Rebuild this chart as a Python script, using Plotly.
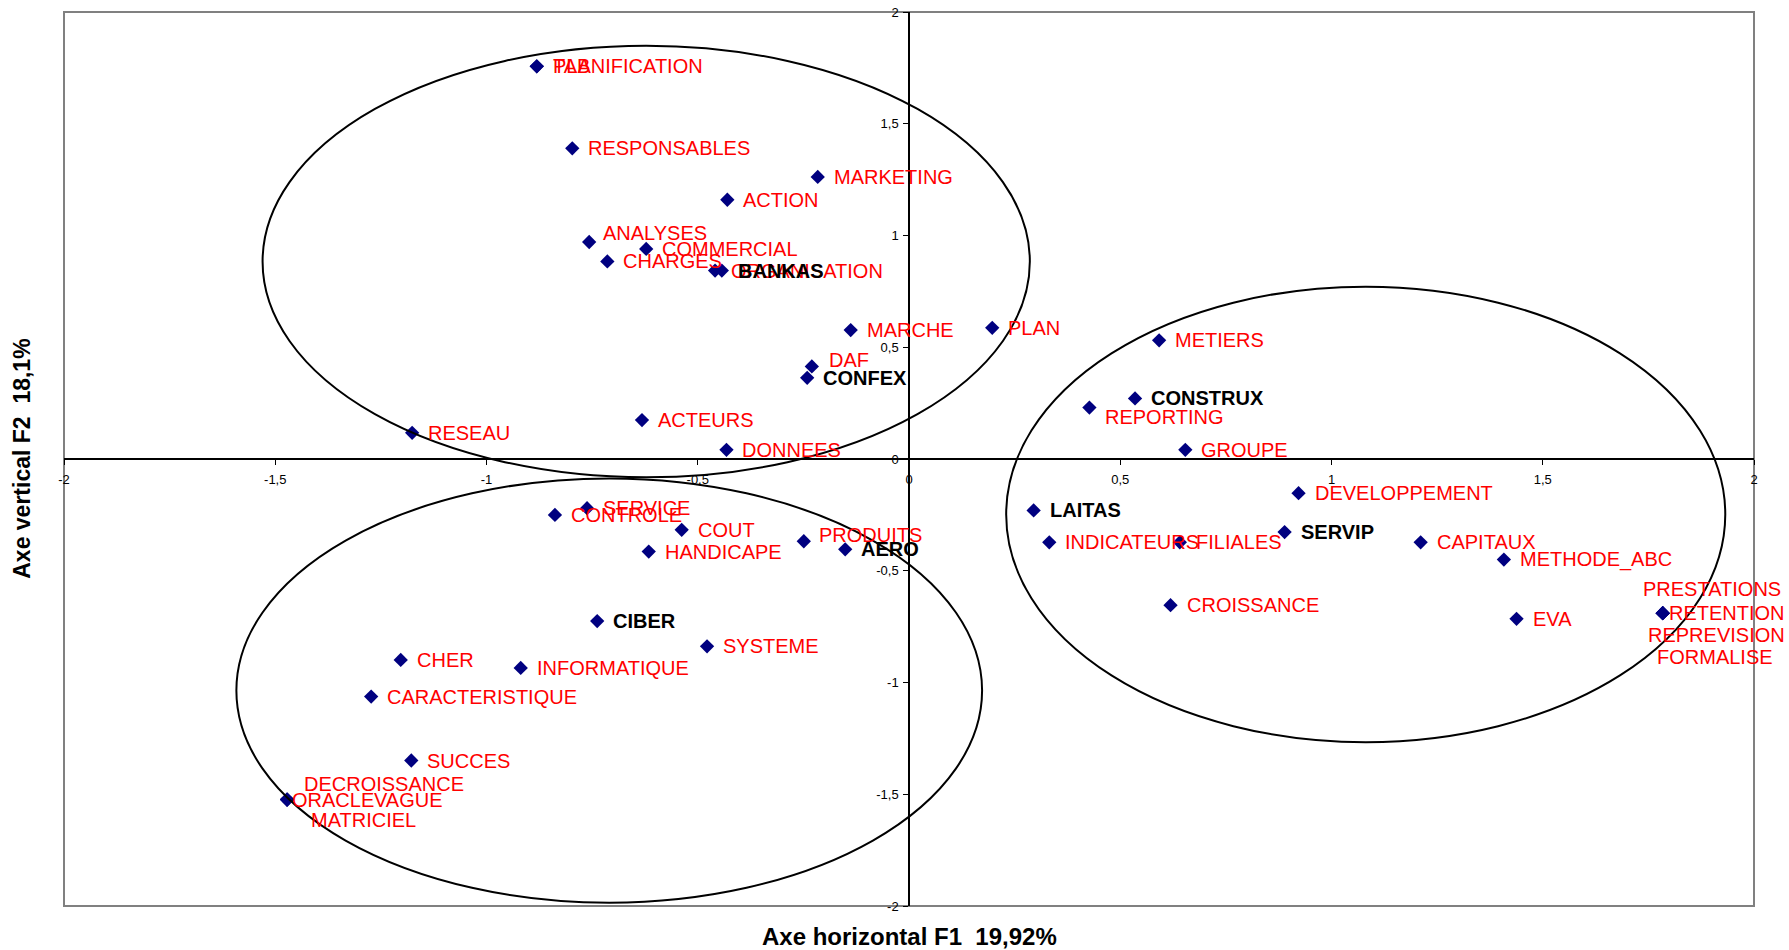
import plotly.graph_objects as go

# ---- data (coordinates on factorial plane F1 x F2) ----
var_names = ["TAB", "PLANIFICATION", "RESPONSABLES", "MARKETING", "ACTION", "ANALYSES",
             "COMMERCIAL", "CHARGES", "ORGANISATION", "MARCHE", "PLAN", "DAF", "ACTEURS",
             "DONNEES", "RESEAU", "METIERS", "REPORTING", "GROUPE", "DEVELOPPEMENT",
             "INDICATEURS", "FILIALES", "CAPITAUX", "METHODE_ABC", "CROISSANCE", "EVA",
             "PRESTATIONS", "RETENTION", "REPREVISION", "FORMALISE",
             "SERVICE", "CONTROLE", "COUT", "PRODUITS", "HANDICAPE", "SYSTEME", "CHER",
             "INFORMATIQUE", "CARACTERISTIQUE", "SUCCES",
             "DECROISSANCE", "ORACLE", "VAGUE", "MATRICIEL"]
var_f1 = [-0.881, -0.881, -0.797, -0.216, -0.430, -0.757,
          -0.622, -0.714, -0.459, -0.138, 0.197, -0.230, -0.632,
          -0.432, -1.176, 0.592, 0.427, 0.654, 0.922,
          0.332, 0.641, 1.211, 1.408, 0.619, 1.438,
          1.784, 1.784, 1.784, 1.784,
          -0.762, -0.838, -0.538, -0.249, -0.616, -0.478, -1.203,
          -0.919, -1.273, -1.178,
          -1.472, -1.472, -1.472, -1.472]
var_f2 = [1.757, 1.757, 1.390, 1.262, 1.160, 0.971,
          0.940, 0.884, 0.843, 0.577, 0.587, 0.414, 0.174,
          0.041, 0.117, 0.531, 0.230, 0.041, -0.153,
          -0.373, -0.373, -0.373, -0.450, -0.654, -0.715,
          -0.690, -0.690, -0.690, -0.690,
          -0.220, -0.250, -0.317, -0.368, -0.414, -0.838, -0.899,
          -0.935, -1.063, -1.349,
          -1.524, -1.524, -1.524, -1.524]

comp_names = ["BANKAS", "CONFEX", "CONSTRUX", "LAITAS", "SERVIP", "AERO", "CIBER"]
comp_f1 = [-0.443, -0.241, 0.535, 0.295, 0.889, -0.151, -0.738]
comp_f2 = [0.843, 0.363, 0.271, -0.230, -0.327, -0.404, -0.725]

# ellipses grouping the clusters: [x0, x1, y0, y1]
groups = [
    [-1.530, 0.286, -0.082, 1.849],
    [-1.592, 0.173, -1.985, -0.087],
    [0.230, 1.932, -1.267, 0.771],
]

tick_vals = [-2, -1.5, -1, -0.5, 0, 0.5, 1, 1.5, 2]
tick_text = ["-2", "-1,5", "-1", "-0,5", "0", "0,5", "1", "1,5", "2"]

x_title = "Axe horizontal F1  19,92%"
y_title = "Axe vertical F2  18,1%"

# ---- label placement (pixel offsets, style only) ----
label_offsets = {
    "ANALYSES": (12, 9), "DAF": (15, 6), "REPORTING": (14, -9), "PRODUITS": (13, 6),
    "PRESTATIONS": (-22, 24), "RETENTION": (4, 0), "REPREVISION": (-17, -22),
    "FORMALISE": (-8, -44),
    "DECROISSANCE": (15, 16), "ORACLE": (3, 0), "VAGUE": (85, 0), "MATRICIEL": (22, -20),
}
DEFAULT_OFF = (14, 0)
FONT = "Liberation Sans, Arial, sans-serif"

fig = go.Figure()
fig.add_trace(go.Scatter(
    x=var_f1 + comp_f1, y=var_f2 + comp_f2,
    mode="markers", text=var_names + comp_names, hoverinfo="text",
    marker=dict(symbol="diamond", size=11, color="#000080"),
    showlegend=False,
))

annotations = []
for n, x, y in zip(var_names, var_f1, var_f2):
    dx, dy = label_offsets.get(n, DEFAULT_OFF)
    annotations.append(dict(x=x, y=y, xref="x", yref="y", text=n, showarrow=False,
                            xanchor="left", yanchor="middle", xshift=dx, yshift=dy,
                            font=dict(family=FONT, size=20, color="#FF0000")))
for n, x, y in zip(comp_names, comp_f1, comp_f2):
    dx, dy = label_offsets.get(n, DEFAULT_OFF)
    annotations.append(dict(x=x, y=y, xref="x", yref="y", text="<b>%s</b>" % n,
                            showarrow=False, xanchor="left", yanchor="middle",
                            xshift=dx, yshift=dy,
                            font=dict(family=FONT, size=20, color="#000000")))

annotations.append(dict(x=0.5, y=-0.034, xref="paper", yref="paper", text="<b>%s</b>" % x_title,
                        showarrow=False, xanchor="center", yanchor="middle",
                        font=dict(family=FONT, size=24, color="#000000")))
annotations.append(dict(x=-0.025, y=0.5, xref="paper", yref="paper", text="<b>%s</b>" % y_title,
                        showarrow=False, xanchor="center", yanchor="middle", textangle=-90,
                        font=dict(family=FONT, size=23, color="#000000")))

shapes = []
for x0, x1, y0, y1 in groups:
    shapes.append(dict(type="circle", xref="x", yref="y", x0=x0, x1=x1, y0=y0, y1=y1,
                       line=dict(color="#000000", width=2)))
shapes.append(dict(type="rect", xref="paper", yref="paper", x0=0, x1=1, y0=0, y1=1,
                   line=dict(color="#808080", width=2), layer="below"))

axis_common = dict(range=[-2, 2], showgrid=False, zeroline=False, showline=True,
                   linecolor="#000000", linewidth=1.5, ticks="outside", ticklen=5,
                   tickcolor="#000000", tickvals=tick_vals, ticktext=tick_text,
                   tickfont=dict(family=FONT, size=13, color="#000000"),
                   anchor="free", position=0.5, fixedrange=True, automargin=False)

fig.update_layout(
    width=1789, height=950,
    margin=dict(l=64, r=35, t=12, b=44, autoexpand=False),
    paper_bgcolor="white", plot_bgcolor="white",
    xaxis=dict(**axis_common, ticklabelstandoff=4),
    yaxis=dict(**axis_common, ticklabelstandoff=2),
    annotations=annotations, shapes=shapes,
    showlegend=False,
)

fig.write_html("out.html", config={"displayModeBar": False},
               post_script="document.body.style.margin='0';")
